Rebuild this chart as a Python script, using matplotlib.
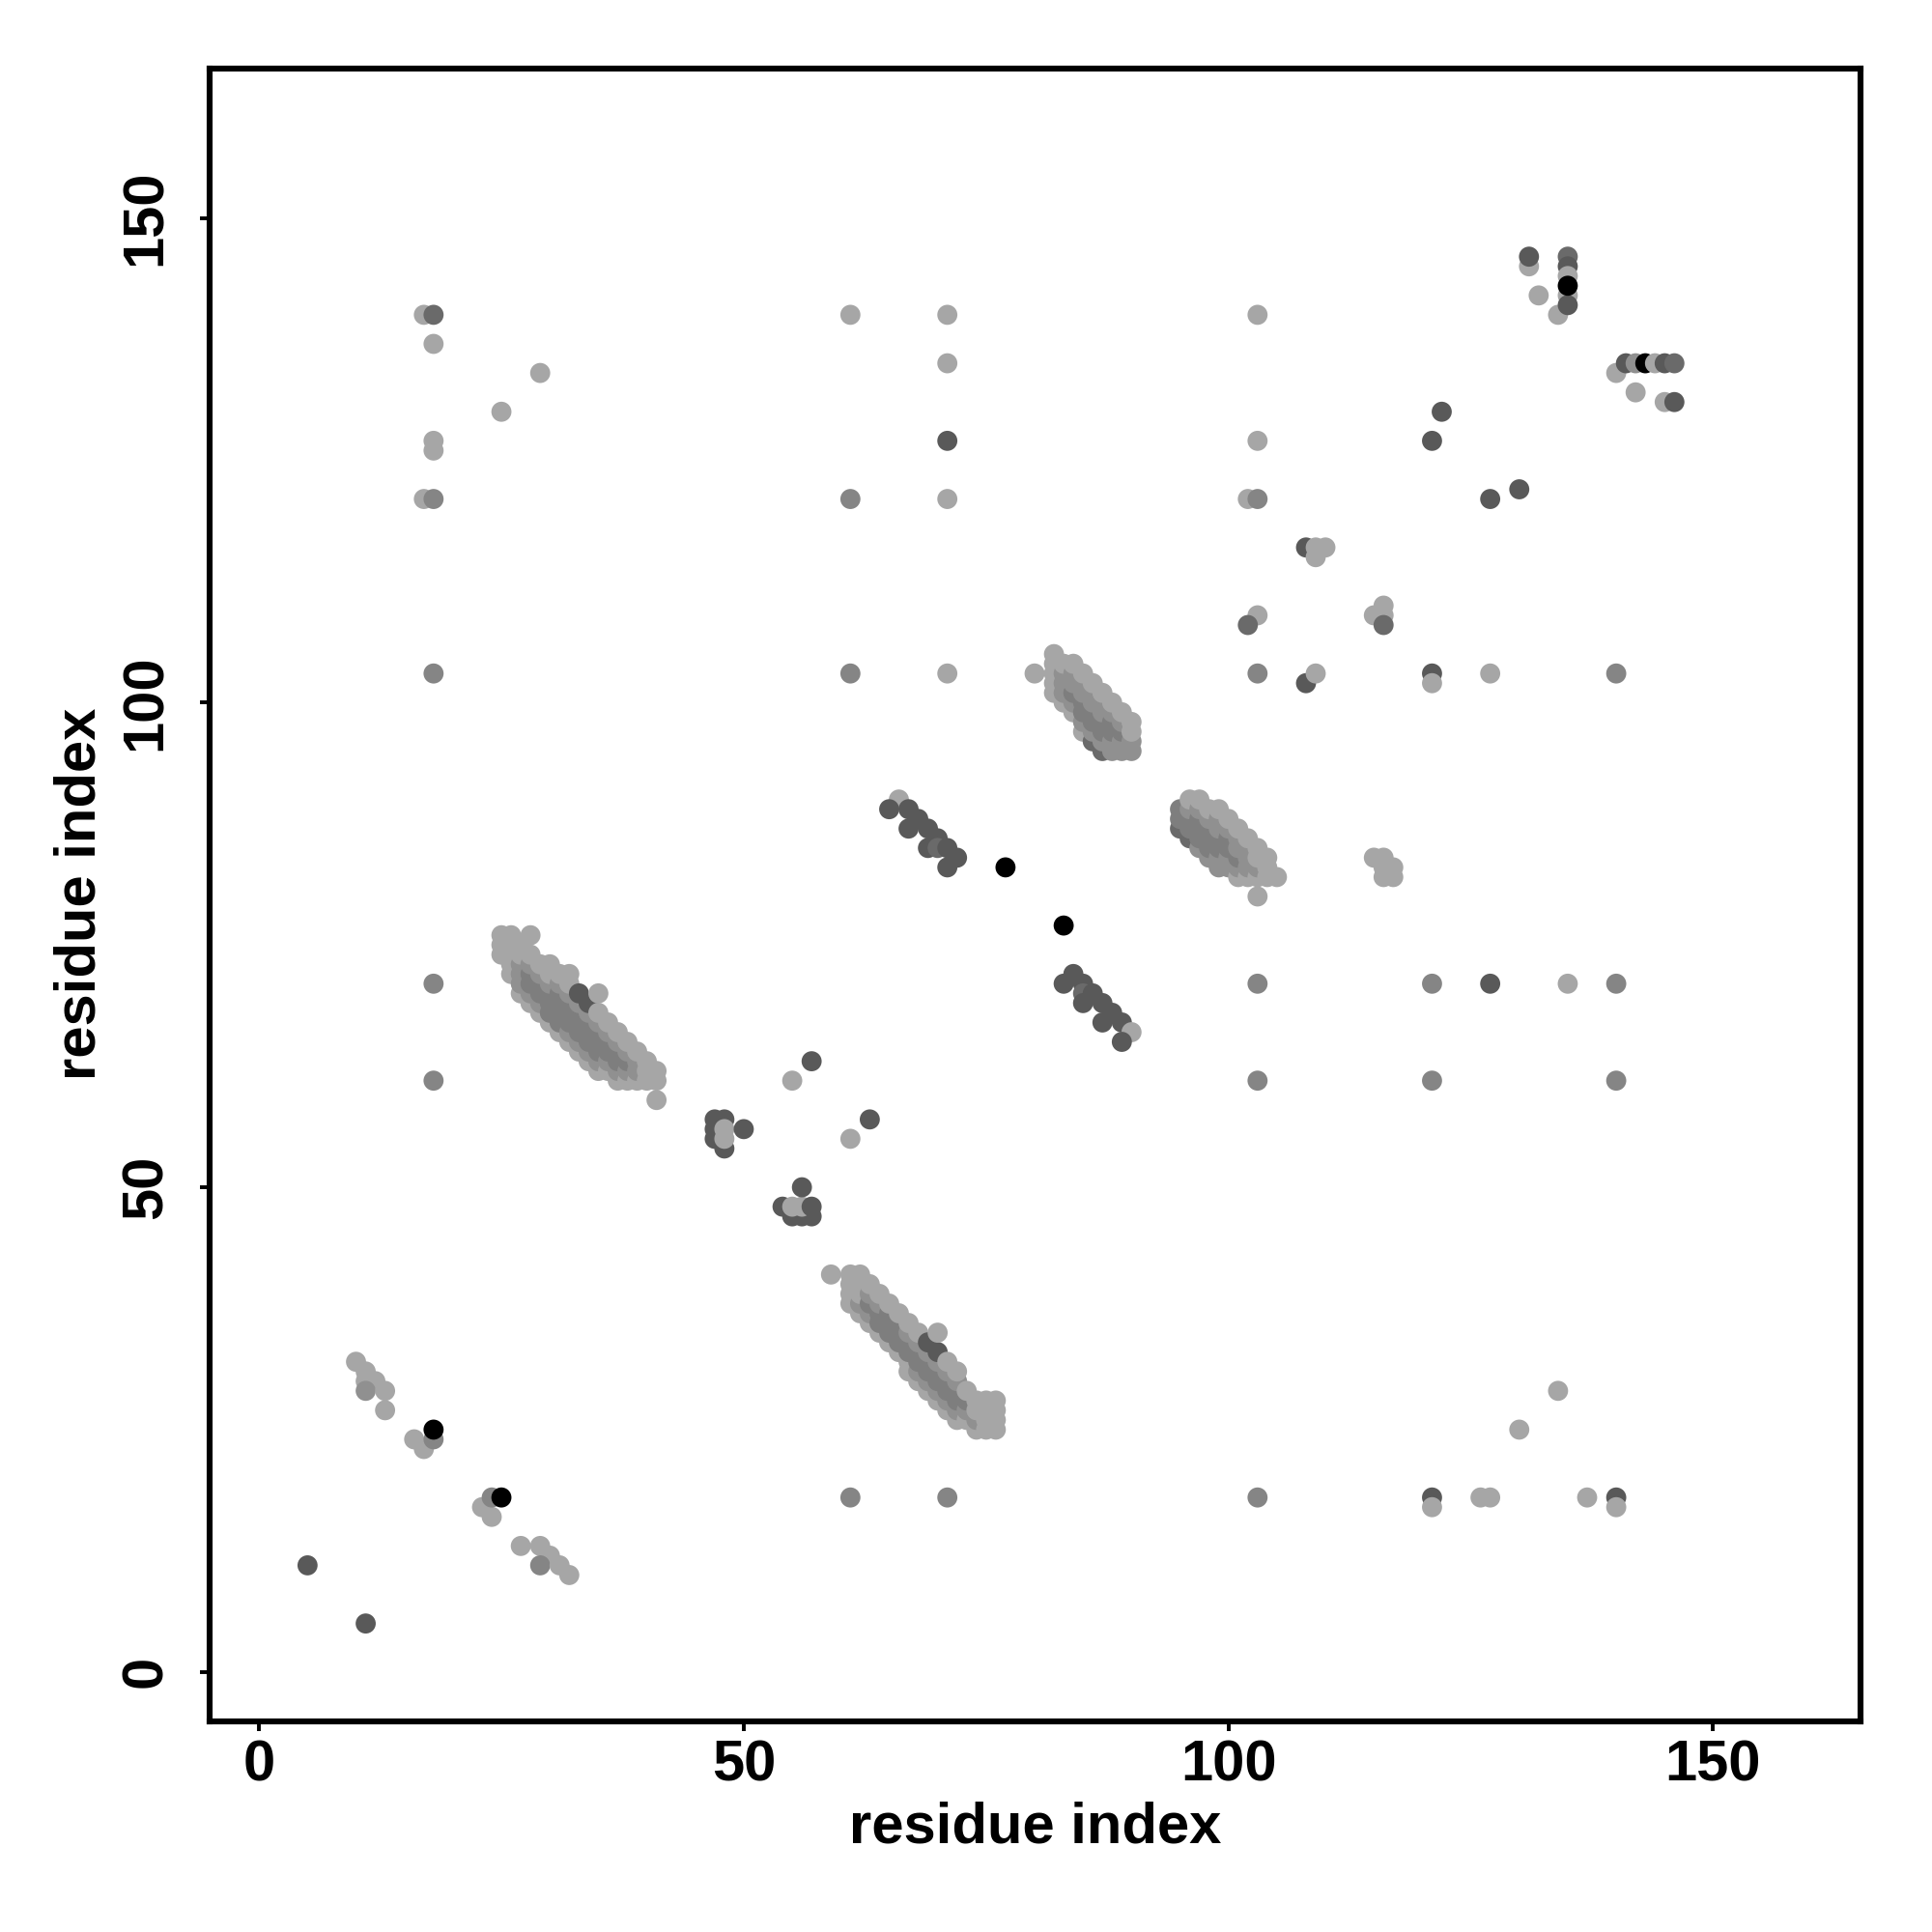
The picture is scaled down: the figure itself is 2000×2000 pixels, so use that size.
import matplotlib
matplotlib.use('Agg')
import matplotlib.pyplot as plt

plt.rcParams['font.family'] = ['Liberation Sans', 'DejaVu Sans']
plt.rcParams['font.weight'] = 'bold'

# grey levels used for the contacts
grays = {'L': '#a6a6a6', 'l': '#909090', 'M': '#858585', 'm': '#7e7e7e',
         'd': '#6a6a6a', 'D': '#595959', 'K': '#000000'}

# isolated contacts (i, j, grey)
sparse = [
    (5, 11, 'D'), (11, 5, 'D'),
    (10, 32, 'L'), (11, 31, 'L'), (11, 30, 'L'), (12, 30, 'L'), (11, 29, 'l'), (13, 29, 'L'), (13, 27, 'L'),
    (16, 24, 'L'), (17, 23, 'L'), (18, 24, 'M'), (18, 25, 'K'),
    (23, 17, 'L'), (24, 16, 'L'), (24, 18, 'M'), (25, 18, 'K'),
    (27, 13, 'L'), (29, 13, 'L'), (30, 12, 'L'), (29, 11, 'M'), (31, 11, 'L'), (32, 10, 'L'),
    (17, 140, 'L'), (18, 140, 'd'), (18, 137, 'L'), (18, 127, 'L'), (18, 126, 'L'),
    (17, 121, 'L'), (18, 121, 'M'), (18, 103, 'M'), (18, 71, 'M'), (18, 61, 'M'),
    (25, 130, 'L'), (29, 134, 'L'),
    (47, 57, 'D'), (48, 57, 'D'), (47, 56, 'D'), (47, 55, 'D'), (48, 54, 'D'),
    (48, 56, 'L'), (48, 55, 'L'), (50, 56, 'D'),
    (54, 48, 'D'), (55, 47, 'D'), (56, 47, 'D'), (57, 47, 'D'),
    (55, 48, 'L'), (56, 48, 'L'), (57, 48, 'D'), (56, 50, 'D'),
    (55, 61, 'L'), (61, 55, 'L'), (57, 63, 'D'), (63, 57, 'D'),
    (61, 140, 'L'), (61, 121, 'M'), (61, 103, 'M'), (61, 18, 'M'),
    (71, 140, 'L'), (71, 135, 'L'), (71, 127, 'D'), (71, 121, 'L'), (71, 103, 'L'), (71, 18, 'M'),
    (77, 83, 'K'), (83, 77, 'K'),
    (103, 140, 'L'), (103, 127, 'L'), (102, 121, 'L'), (103, 121, 'M'), (103, 109, 'L'),
    (102, 108, 'd'), (103, 103, 'M'), (103, 71, 'M'), (103, 61, 'M'), (103, 18, 'M'),
    (108, 116, 'D'), (109, 116, 'L'), (110, 116, 'L'), (109, 115, 'L'),
    (108, 102, 'D'), (109, 103, 'L'),
    (115, 109, 'L'), (116, 110, 'L'), (116, 109, 'L'), (116, 108, 'd'),
    (115, 84, 'L'), (116, 84, 'L'), (116, 83, 'L'), (116, 82, 'L'), (117, 83, 'L'), (117, 82, 'L'),
    (121, 127, 'D'), (122, 130, 'D'), (121, 103, 'D'), (121, 102, 'L'), (121, 71, 'M'),
    (121, 61, 'M'), (121, 18, 'D'), (121, 17, 'L'),
    (127, 121, 'D'), (130, 122, 'D'), (127, 103, 'L'), (127, 71, 'D'), (126, 18, 'L'), (127, 18, 'L'),
    (130, 25, 'L'), (134, 29, 'L'), (135, 71, 'L'), (137, 18, 'L'),
    (140, 134, 'L'), (140, 103, 'M'), (140, 71, 'M'), (140, 61, 'M'), (140, 18, 'D'), (140, 17, 'L'),
    (131, 145, 'L'), (131, 146, 'D'), (132, 142, 'L'), (134, 140, 'L'),
    (135, 146, 'd'), (135, 145, 'D'), (135, 144, 'L'), (135, 142, 'L'), (135, 141, 'D'), (135, 143, 'K'),
    (141, 135, 'D'), (142, 135, 'l'), (143, 135, 'K'), (144, 135, 'L'), (145, 135, 'D'), (146, 135, 'd'),
    (142, 132, 'L'), (145, 131, 'L'), (146, 131, 'D'),
]

# hairpin strips (dark)
strip_upper = [(66, 90, 'L'), (65, 89, 'D'), (67, 89, 'D'), (68, 88, 'D'), (67, 87, 'D'), (69, 87, 'D'),
               (70, 86, 'D'), (69, 85, 'D'), (70, 85, 'd'), (71, 85, 'D'), (72, 84, 'D'), (71, 83, 'D')]
strip_lower = [(84, 72, 'D'), (83, 71, 'D'), (85, 71, 'D'), (85, 70, 'd'), (86, 70, 'D'), (85, 69, 'D'),
               (87, 69, 'D'), (88, 68, 'D'), (87, 67, 'D'), (89, 67, 'D'), (90, 66, 'L'), (89, 65, 'D')]

# sheet bands: residue i -> (partner residues j, grey per partner)
band_a = {
    25: ([74, 75, 76], 'LLL'),
    26: ([72, 73, 74, 75, 76], 'LLLLL'),
    27: ([70, 71, 72, 73, 74, 75], 'LlllLL'),
    28: ([69, 70, 71, 72, 73, 74, 76], 'LlmmlLL'),
    29: ([68, 69, 70, 71, 72, 73], 'LlmmlL'),
    30: ([67, 68, 69, 70, 71, 72, 73], 'LmmmlLL'),
    31: ([66, 67, 68, 69, 70, 71, 72], 'LmmmmlL'),
    32: ([65, 66, 67, 68, 69, 70, 71, 72], 'LlmmmlLL'),
    33: ([64, 65, 66, 67, 68, 69, 70], 'LlmmmlD'),
    34: ([63, 64, 65, 66, 67, 68, 69], 'LlmmmlD'),
    35: ([62, 63, 64, 65, 66, 67, 68, 70], 'LlmmmlLL'),
    36: ([62, 63, 64, 65, 66, 67], 'LlmmlL'),
    37: ([61, 62, 63, 64, 65, 66], 'LlmmlL'),
    38: ([61, 62, 63, 64, 65], 'LlmlL'),
    39: ([61, 62, 63, 64], 'LllL'),
    40: ([61, 62, 63], 'LLL'),
    41: ([59, 61, 62], 'LLL'),
}
band_b = {
    59: ([41], 'L'),
    61: ([38, 39, 40, 41], 'LLLL'),
    62: ([37, 38, 39, 40, 41], 'LlLLL'),
    63: ([36, 37, 38, 39, 40], 'LlmlL'),
    64: ([35, 36, 37, 38, 39], 'LmmlL'),
    65: ([34, 35, 36, 37, 38], 'LmmmL'),
    66: ([33, 34, 35, 36, 37], 'LmmmL'),
    67: ([31, 32, 33, 34, 35, 36], 'LLmmlL'),
    68: ([30, 31, 32, 33, 34, 35], 'LlmmlL'),
    69: ([29, 30, 31, 32, 33, 34], 'LlmmlD'),
    70: ([28, 29, 30, 31, 32, 33, 35], 'LlmmlDL'),
    71: ([27, 28, 29, 30, 31, 32], 'LlmmlL'),
    72: ([26, 27, 28, 29, 30, 31], 'LlmmlL'),
    73: ([26, 27, 28, 29], 'LlmL'),
    74: ([25, 26, 27, 28], 'LlLL'),
    75: ([25, 26, 27, 28], 'LLLL'),
    76: ([25, 26, 27, 28], 'LLLL'),
}
band_c = {
    80: ([103], 'L'),
    82: ([101, 102, 103, 104, 105], 'LLLLL'),
    83: ([100, 101, 102, 103, 104], 'LlllL'),
    84: ([99, 100, 101, 102, 103, 104], 'LlmllL'),
    85: ([97, 98, 99, 100, 101, 102, 103], 'LlmmllL'),
    86: ([96, 97, 98, 99, 100, 101, 102], 'dlmmllL'),
    87: ([95, 96, 97, 98, 99, 100, 101], 'dlmmllL'),
    88: ([95, 96, 97, 98, 99, 100], 'llmmlL'),
    89: ([95, 96, 97, 98, 99], 'llmlL'),
    90: ([95, 96, 97, 98], 'llLL'),
}
band_d = {
    95: ([87, 88, 89], 'dmm'),
    96: ([86, 87, 88, 89, 90], 'dmmlL'),
    97: ([85, 86, 87, 88, 89, 90], 'lmmmlL'),
    98: ([84, 85, 86, 87, 88, 89], 'lmmmlL'),
    99: ([83, 84, 85, 86, 87, 88, 89], 'llmmllL'),
    100: ([83, 84, 85, 86, 87, 88], 'llmmlL'),
    101: ([82, 83, 84, 85, 86, 87], 'LlmllL'),
    102: ([82, 83, 84, 85, 86], 'LlllL'),
    103: ([80, 82, 83, 84, 85], 'LLlLL'),
    104: ([82, 83, 84], 'LLL'),
    105: ([82], 'L'),
}

xs, ys, cs = [], [], []
for pts in (sparse, strip_upper, strip_lower):
    for i, j, g in pts:
        xs.append(i); ys.append(j); cs.append(grays[g])
for band in (band_a, band_b, band_c, band_d):
    for i, (js, codes) in band.items():
        for j, g in zip(js, codes):
            xs.append(i); ys.append(j); cs.append(grays[g])

fig = plt.figure(figsize=(10, 10), dpi=200)
ax = fig.add_axes([0.1085, 0.109, 0.8545, 0.8555])
ax.scatter(xs, ys, s=56, c=cs, linewidths=0)

ax.set_xlim(-5.1, 165.2)
ax.set_ylim(-5.1, 165.4)
ticks = [0, 50, 100, 150]
ax.set_xticks(ticks)
ax.set_yticks(ticks)
ax.set_xticklabels([str(t) for t in ticks], fontsize=21.5, fontweight='bold')
ax.set_yticklabels([str(t) for t in ticks], fontsize=21.5, fontweight='bold', rotation=90, va='center')
ax.tick_params(axis='x', direction='out', length=3.6, width=1.4, pad=3)
ax.tick_params(axis='y', direction='out', length=3.6, width=1.4, pad=10)
for sp in ax.spines.values():
    sp.set_linewidth(2.2)

fig.text(0.5357, 0.054, 'residue index', ha='center', va='center', fontsize=21.5, fontweight='bold')
fig.text(0.0415, 0.5375, 'residue index', ha='center', va='center', rotation=90, fontsize=21.5, fontweight='bold')

fig.savefig('out.png', dpi=200, facecolor='white')
